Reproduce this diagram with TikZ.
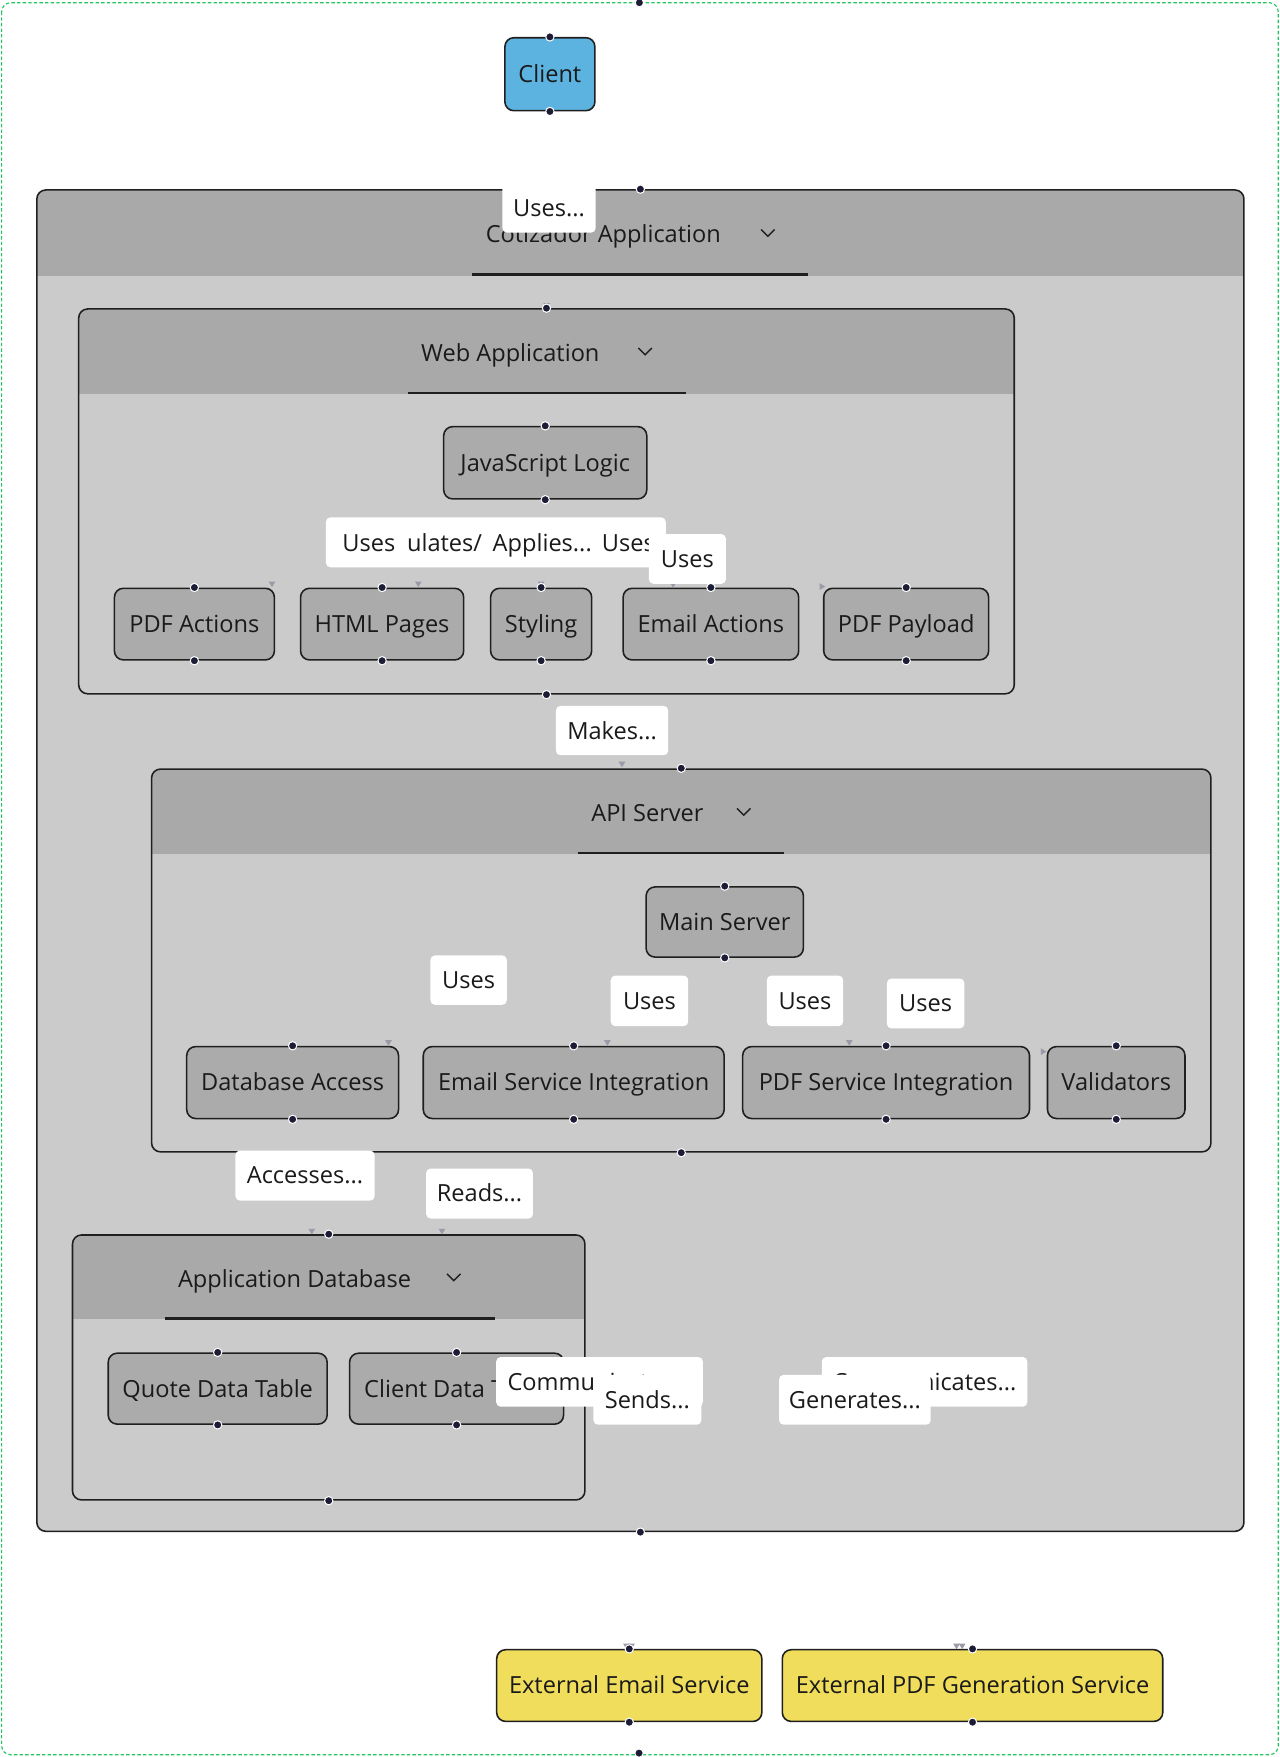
\documentclass[tikz,border=0pt]{standalone}
\usepackage{fontspec}
\setmainfont{Open Sans}
\definecolor{hdrg}{HTML}{A9A9A9}
\definecolor{bodyg}{HTML}{CBCBCB}
\definecolor{nodeg}{HTML}{ABABAB}
\definecolor{linec}{HTML}{1F1F1F}
\definecolor{dotc}{HTML}{1C1C36}
\definecolor{trig}{HTML}{9A9AA8}
\definecolor{clientc}{HTML}{5CB3E0}
\definecolor{extc}{HTML}{F0DD5C}
\definecolor{greenc}{HTML}{22C55E}
\definecolor{txtc}{HTML}{1A1A1A}
\newcommand{\fs}{\fontsize{21pt}{25pt}\selectfont}
\tikzset{
  nbox/.style={draw=linec, line width=1.4pt, rounded corners=8pt, fill=nodeg, font=\fs, text=txtc, inner sep=0pt, text height=19pt, text depth=4pt},
  lbl/.style={fill=white, rounded corners=4pt, inner sep=0pt, font=\fs, text=txtc, text height=19pt, text depth=4pt},
  txt/.style={font=\fs, text=txtc, inner sep=0pt, text height=19pt, text depth=4pt},
  grp/.style={draw=linec, line width=1.4pt, rounded corners=8pt, fill=bodyg, inner sep=0pt},
  uline/.style={draw=linec, line width=2pt},
  chev/.style={draw=linec, line width=1.3pt},
}
\newcommand{\bx}[7][nbox]{%
  \pgfmathsetmacro\bxw{#5-#3}\pgfmathsetmacro\bxh{#6-#4}%
  \pgfmathsetmacro\bxx{(#3+#5)/2}\pgfmathsetmacro\bxy{(#4+#6)/2}%
  \node[#1, minimum width=\bxw pt, minimum height=\bxh pt] (#2) at (\bxx,\bxy) {#7};}
\newcommand{\gp}[6]{%
  \pgfmathsetmacro\bxw{#4-#2}\pgfmathsetmacro\bxh{#5-#3}%
  \pgfmathsetmacro\bxx{(#2+#4)/2}\pgfmathsetmacro\bxy{(#3+#5)/2}%
  \node[grp, minimum width=\bxw pt, minimum height=\bxh pt,
    path picture={\fill[hdrg, sharp corners] ([xshift=-2pt,yshift=2pt]path picture bounding box.north west) rectangle ([xshift=2pt,yshift=-#6pt]path picture bounding box.north east);}]
    (#1) at (\bxx,\bxy) {};}
\newcommand{\dt}[1]{\fill[dotc, draw=white, line width=0.9pt] (#1) circle (3.7pt);}
\newcommand{\tdn}[2]{\fill[trig] (#1-3,#2-2.5) -- (#1+3,#2-2.5) -- (#1,#2+2.5) -- cycle;}
\newcommand{\trt}[2]{\fill[trig] (#1-2.5,#2-3) -- (#1-2.5,#2+3) -- (#1+2.5,#2) -- cycle;}
\newcommand{\chv}[2]{\draw[chev] (#1-6,#2-3) -- (#1,#2+3) -- (#1+6,#2-3);}
\begin{document}
\begin{tikzpicture}[x=1pt,y=-1pt]
\useasboundingbox (0,0) rectangle (1140,1565);
\fill[white] (0,0) rectangle (1140,1565);
% outer frame
\draw[greenc, line width=1pt, dash pattern=on 3pt off 2pt, rounded corners=8pt] (1.5,2.4) rectangle (1138.5,1563);
\dt{569.5,2.4}
\dt{569.2,1561.5}

% client
\bx[nbox,fill=clientc]{client}{449.7}{33.6}{529.9}{98.6}{Client}

% Cotizador Application
\gp{cot}{32.8}{169.2}{1108}{1364}{76.3}
\node[txt, anchor=west] (cott) at (432.5,208.9) {Cotizador Application};
\chv{684}{207.4}
\draw[uline] (420.5,244.5) -- (720,244.5);

% Web Application
\gp{web}{70.1}{275.2}{903.4}{618}{75.7}
\node[txt, anchor=west] (webt) at (375,314.5) {Web Application};
\chv{574.6}{313}
\draw[uline] (363,350) -- (610.6,350);
\bx{js}{395.2}{380}{576.1}{444.4}{JavaScript Logic}
\bx{pdfa}{101.9}{524}{244.4}{587.8}{PDF Actions}
\bx{html}{267.7}{524}{413}{587.8}{HTML Pages}
\bx{sty}{437}{524}{527}{587.8}{Styling}
\bx{ema}{555}{524}{711.4}{587.8}{Email Actions}
\bx{pay}{733.7}{524}{880.6}{587.8}{PDF Payload}

% API Server
\gp{api}{135}{685}{1078.6}{1026}{76}
\node[txt, anchor=west] (apit) at (526.5,724.5) {API Server};
\chv{662.5}{723}
\draw[uline] (514.5,760) -- (698.5,760);
\bx{mains}{575.5}{790}{715.6}{852.5}{Main Server}
\bx{dba}{166.3}{932.2}{355}{996.3}{Database Access}
\bx{esi}{377}{932.2}{645}{996.3}{Email Service Integration}
\bx{psi}{661.5}{932.2}{917}{996.3}{PDF Service Integration}
\bx{val}{933}{932.2}{1055.5}{996.3}{Validators}

% Application Database
\gp{db}{64.6}{1100}{521}{1336}{75}
\node[txt, anchor=west] (dbt) at (158.4,1139) {Application Database};
\chv{404.2}{1137.7}
\draw[uline] (146.6,1174.5) -- (440.5,1174.5);
\bx{qdt}{96.4}{1205.3}{291.4}{1268.5}{Quote Data Table}
\bx{cdt}{311.4}{1205.3}{502}{1268.5}{Client Data Table}

% external services
\bx[nbox,fill=extc]{exte}{442.4}{1469.4}{678.6}{1533.3}{External Email Service}
\bx[nbox,fill=extc]{extp}{696.8}{1469.4}{1035.7}{1533.3}{External PDF Generation Service}

% arrow tips
\tdn{487}{272.5}
\tdn{242.3}{520.5}
\tdn{372.6}{520.5}
\tdn{482}{520.5}
\tdn{599.5}{521}
\trt{732.5}{522.5}
\tdn{554}{681}
\tdn{346}{929}
\tdn{541}{929}
\tdn{756.5}{929}
\trt{929.6}{936.7}
\tdn{277.7}{1097}
\tdn{393.7}{1097}
\tdn{558}{1466.5}
\tdn{562.5}{1466.5}
\tdn{852}{1466.5}
\tdn{857}{1466.5}

% handles
\foreach \n in {client,cot,web,js,pdfa,html,sty,ema,pay,api,mains,dba,esi,psi,val,db,qdt,cdt,exte,extp}{
  \dt{\n.north}
  \dt{\n.south}
}

% labels
\bx[lbl]{l1}{447.5}{164}{530.6}{207.2}{Uses...}
\bx[lbl]{lA}{290.3}{460.8}{593}{505.3}{}
\node[txt] (lA1) at (328.6,483.8) {Uses};
\node[txt] (lA2) at (396,483.8) {ulates/};
\node[txt] (lA3) at (483,483.8) {Applies...};
\node[txt, anchor=west] (lA4) at (536,483.8) {Uses};
\bx[lbl]{lB}{578}{475.8}{646.6}{520}{Uses}
\bx[lbl]{lmk}{495.2}{628.8}{595.2}{672.7}{Makes...}
\bx[lbl]{lu1}{383.4}{851}{451.4}{895}{Uses}
\bx[lbl]{lu2}{544}{869}{613}{914}{Uses}
\bx[lbl]{lu3}{683}{869}{751}{914}{Uses}
\bx[lbl]{lu4}{790}{871.6}{859}{916}{Uses}
\bx[lbl]{lacc}{209.7}{1024.8}{333.7}{1069.4}{Accesses...}
\bx[lbl]{lrd}{379.6}{1040.8}{474.7}{1085.4}{Reads...}
\bx[lbl]{lcm1}{442}{1208.7}{626}{1253}{Communicates...}
\bx[lbl]{lsd}{528.6}{1224.6}{624.7}{1269}{Sends...}
\bx[lbl]{lcm2}{732}{1208.7}{915}{1253}{Communicates...}
\bx[lbl]{lgen}{694}{1224.6}{829}{1269}{Generates...}
\end{tikzpicture}
\end{document}
